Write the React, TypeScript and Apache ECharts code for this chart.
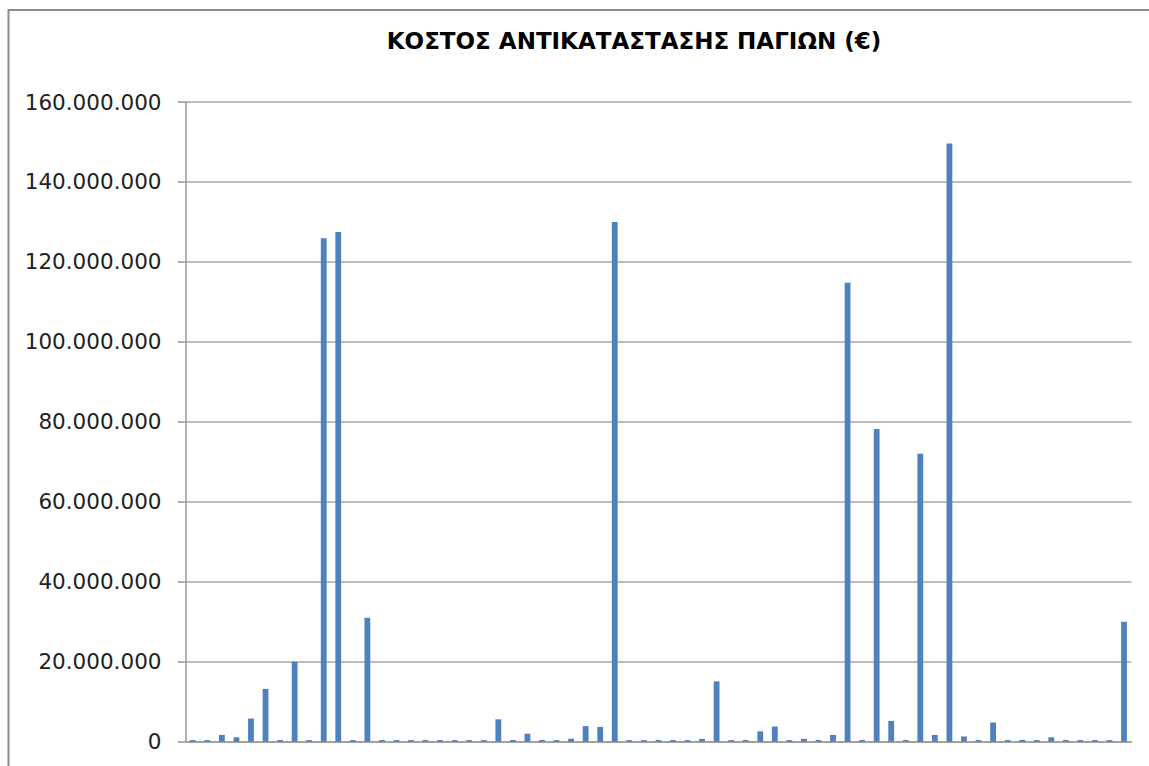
import React, { useEffect, useRef } from "react";
import * as echarts from "echarts";

const titleText = "ΚΟΣΤΟΣ ΑΝΤΙΚΑΤΑΣΤΑΣΗΣ ΠΑΓΙΩΝ (€)";

const categories = [
  "1", "2", "3", "4", "5", "6", "7", "8", "9", "10",
  "11", "12", "13", "14", "15", "16", "17", "18", "19", "20",
  "21", "22", "23", "24", "25", "26", "27", "28", "29", "30",
  "31", "32", "33", "34", "35", "36", "37", "38", "39", "40",
  "41", "42", "43", "44", "45", "46", "47", "48", "49", "50",
  "51", "52", "53", "54", "55", "56", "57", "58", "59", "60",
  "61", "62", "63", "64", "65",
];

const costs = [
  400000, 400000, 1700000, 1100000, 5800000, 13200000, 400000, 20000000, 400000, 125900000,
  127500000, 400000, 31000000, 400000, 400000, 400000, 400000, 400000, 400000, 400000,
  400000, 5600000, 400000, 2000000, 400000, 400000, 750000, 3900000, 3700000, 130000000,
  400000, 400000, 400000, 400000, 400000, 700000, 15100000, 400000, 400000, 2600000,
  3800000, 400000, 700000, 400000, 1700000, 114800000, 400000, 78200000, 5200000, 400000,
  72000000, 1700000, 149600000, 1300000, 400000, 4800000, 400000, 400000, 400000, 1100000,
  400000, 400000, 400000, 400000, 30000000,
];

const yMin = 0;
const yMax = 160000000;
const yStep = 20000000;

function fmt(v: number): string {
  return Math.round(v)
    .toString()
    .replace(/\B(?=(\d{3})+(?!\d))/g, ".");
}

export default function App() {
  const ref = useRef<HTMLDivElement>(null);

  useEffect(() => {
    if (!ref.current) return;
    const chart = echarts.init(ref.current, undefined, { renderer: "svg" });
    chart.setOption({
      animation: false,
      backgroundColor: "#ffffff",
      title: {
        text: titleText,
        left: 634,
        top: 29,
        padding: 0,
        textAlign: "center",
        textStyle: {
          fontFamily: "DejaVu Sans",
          fontWeight: "bold",
          fontSize: 23,
          color: "#000000",
        },
      },
      graphic: [
        {
          type: "rect",
          shape: { x: 8.5, y: 10, width: 1400, height: 1000 },
          style: { fill: "none", stroke: "#8c8c8c", lineWidth: 2 },
          silent: true,
          z: -1,
        },
      ],
      grid: {
        left: 185.5,
        right: 17.7,
        top: 102,
        bottom: 24.3,
        containLabel: false,
      },
      xAxis: {
        type: "category",
        data: categories,
        axisLine: { show: true, lineStyle: { color: "#999999", width: 1.5 } },
        axisTick: { show: false },
        axisLabel: { show: false },
        splitLine: { show: false },
      },
      yAxis: {
        type: "value",
        min: yMin,
        max: yMax,
        interval: yStep,
        axisLine: { show: true, lineStyle: { color: "#999999", width: 1.5 } },
        axisTick: {
          show: true,
          inside: false,
          length: 8,
          lineStyle: { color: "#999999", width: 1.5 },
        },
        axisLabel: {
          margin: 24,
          fontFamily: "DejaVu Sans",
          fontSize: 21.5,
          color: "#222222",
          formatter: (v: number) => fmt(v),
        },
        splitLine: { show: true, lineStyle: { color: "#a6a6a6", width: 1.5 } },
      },
      series: [
        {
          type: "bar",
          data: costs,
          barCategoryGap: "60%",
          itemStyle: { color: "#4f81bd" },
        },
      ],
    });
    return () => chart.dispose();
  }, []);

  return (
    <div
      ref={ref}
      style={{ position: "fixed", left: 0, top: 0, width: 1149, height: 766 }}
    />
  );
}
